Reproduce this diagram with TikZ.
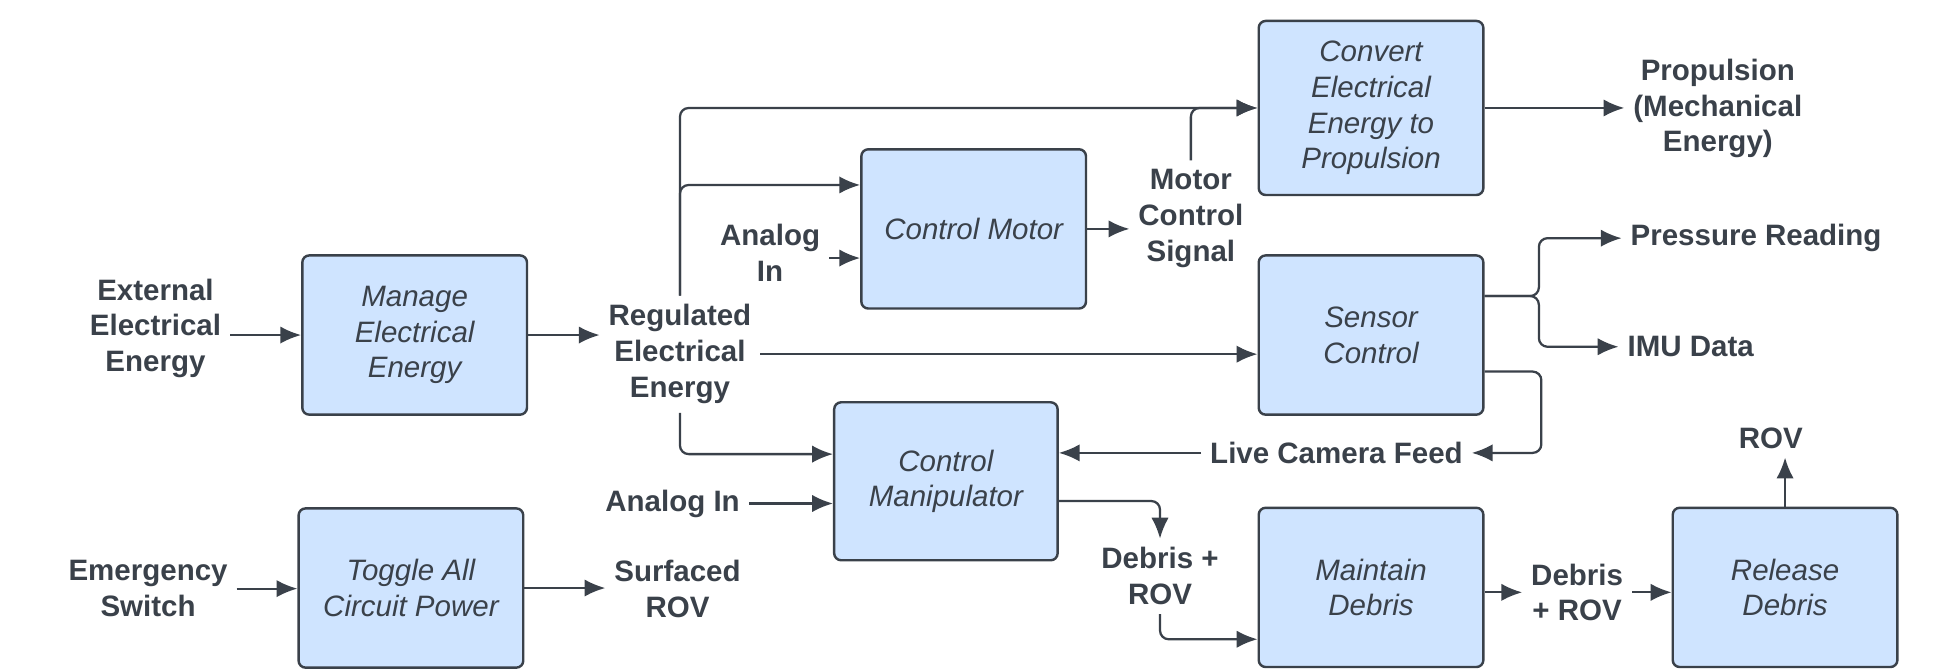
\documentclass[tikz,border=0pt]{standalone}
\usepackage{fontspec}
\setmainfont{Liberation Sans}
\usetikzlibrary{arrows.meta}

\definecolor{ink}{HTML}{3A414A}
\definecolor{boxfill}{HTML}{CFE4FF}

\newcommand*{\boxw}{4.55cm}
\newcommand*{\boxh}{3.225cm}
\newcommand*{\txtfont}{\fontsize{17}{20.6}\selectfont}

\begin{document}
\begin{tikzpicture}
[
	x=0.025cm, y=-0.025cm,
	blk/.style={draw=ink,fill=boxfill,rounded corners=4pt,line width=1.4pt,minimum width=\boxw,minimum height=\boxh,align=center,text=ink,font=\txtfont\itshape},
	lbl/.style={align=center,text=ink,inner sep=5pt,font=\txtfont\bfseries},
	arr/.style={draw=ink,line width=1.3pt,-{Latex[length=12pt,width=10pt]}}
]
	\useasboundingbox (0,0) rectangle (1568,544);

	% blocks
	\node[blk] (mng) at (336,271.5) {Manage\\Electrical\\Energy};
	\node[blk] (tog) at (333,476.5) {Toggle All\\Circuit Power};
	\node[blk] (cmot) at (789,185.5) {Control Motor};
	\node[blk,minimum height=3.525cm] (conv) at (1111,87.5) {Convert\\Electrical\\Energy to\\Propulsion};
	\node[blk] (sens) at (1111,271.5) {Sensor\\Control};
	\node[blk,minimum width=4.525cm,minimum height=3.2cm] (cman) at (766.5,390) {Control\\Manipulator};
	\node[blk] (mnt) at (1111,476) {Maintain\\Debris};
	\node[blk] (rel) at (1446.5,476) {Release\\Debris};

	% signals
	\node[lbl] (ext) at (126,266) {External\\Electrical\\Energy};
	\node[lbl] (emg) at (120,477) {Emergency\\Switch};
	\node[lbl] (reg) at (551,287) {Regulated\\Electrical\\Energy};
	\node[lbl] (ana1) at (624,205) {Analog\\In};
	\node[lbl] (mcs) at (965,177) {Motor\\Control\\Signal};
	\node[lbl] (prop) at (1392,88) {Propulsion\\(Mechanical\\Energy)};
	\node[lbl] (pres) at (1423,193) {Pressure Reading};
	\node[lbl] (imu) at (1370,281) {IMU Data};
	\node[lbl] (cam) at (1083,367) {Live Camera Feed};
	\node[lbl] (ana2) at (545,408) {Analog In};
	\node[lbl] (surf) at (549,477) {Surfaced\\ROV};
	\node[lbl] (dr1) at (940,467) {Debris +\\ROV};
	\node[lbl] (dr2) at (1278,480) {Debris\\+ ROV};
	\node[lbl] (rov) at (1435,355) {ROV};

	% power path
	\draw[arr] (mng.west -| ext.east) -- (mng.west);
	\draw[arr] (mng.east) -- (mng.east -| reg.west);
	\draw[arr,rounded corners=5pt] (reg.north) |- (conv.west);
	\draw[arr,rounded corners=5pt] (reg.north) |- ([yshift=0.89cm]cmot.west);
	\draw[arr] (reg.east) -- (reg.east -| sens.west);
	\draw[arr,rounded corners=5pt] (reg.south) |- ([yshift=0.55cm]cman.west);

	% motor
	\draw[arr] ([yshift=-0.59cm]cmot.west -| ana1.east) -- ([yshift=-0.59cm]cmot.west);
	\draw[arr] (cmot.east) -- (cmot.east -| mcs.west);
	\draw[arr,rounded corners=5pt] (mcs.north) |- (conv.west);
	\draw[arr] (conv.east) -- (conv.east -| prop.west);

	% sensors
	\draw[arr,rounded corners=5pt] ([yshift=0.79cm]sens.east) -- ++(44,0) |- (pres.west);
	\draw[arr,rounded corners=5pt] ([yshift=0.79cm]sens.east) -- ++(44,0) |- (imu.west);
	\draw[arr,rounded corners=5pt] ([yshift=-0.74cm]sens.east) -- ++(46,0) |- (cam.east);
	\draw[arr] (cam.west) -- (cam.west -| cman.east);

	% manipulator and debris
	\draw[arr] (ana2.east) -- (ana2.east -| cman.west);
	\draw[arr,rounded corners=5pt] ([yshift=-0.4cm]cman.east) -| (dr1.north);
	\draw[arr,rounded corners=5pt] (dr1.south) |- ([yshift=-1.05cm]mnt.west);
	\draw[arr] (mnt.east |- dr2.west) -- (dr2.west);
	\draw[arr] (dr2.east) -- (dr2.east -| rel.west);
	\draw[arr] (rel.north) -- (rel.north |- rov.south);

	% emergency
	\draw[arr] (emg.east) -- (emg.east -| tog.west);
	\draw[arr] (tog.east) -- (tog.east -| surf.west);

\end{tikzpicture}
\end{document}
